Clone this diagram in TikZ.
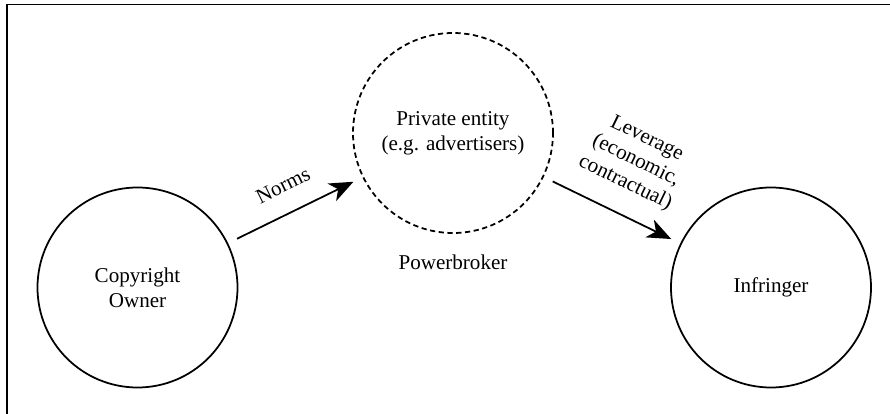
\documentclass[tikz,border=0pt]{standalone}
\usepackage{fontspec}
\setmainfont{Liberation Serif}
\usetikzlibrary{arrows.meta,positioning}
\tikzset{
	party/.style={
			draw, circle, line width=1pt, minimum size=4cm, align=center,
			font=\fontsize{12}{14}\selectfont
		},
	hidden party/.style={party, dash pattern=on 3pt off 2pt},
	flow/.style={line width=1pt, -{Stealth[length=4.8mm,width=3.9mm,inset=1.4mm]}, shorten <=2mm, shorten >=2mm},
	flow label/.style={midway, sloped, above=2.8mm, align=center, font=\fontsize{12}{14}\selectfont}
}

\begin{document}
\begin{tikzpicture}
        \useasboundingbox (0,0) rectangle (17.8,8.28);
        \draw [line width=0.8pt] (17.8,8.19) -- (0.14,8.19) -- (0.14,0);
        \node [party] (owner) at (2.75,2.53) {Copyright\\Owner};
        \node [hidden party] (entity) at (9.06,5.62) {Private entity\\(e.g. advertisers)};
        \node [party] (infringer) at (15.42,2.53) {Infringer};
        \node [below=3mm of entity, font=\fontsize{12}{14}\selectfont] (powerbroker) {Powerbroker};
        \draw [flow] (owner) -- (entity) node[flow label]{Norms};
        \draw [flow] (entity) -- (infringer) node[flow label]{Leverage\\(economic,\\contractual)};
    \end{tikzpicture}
\end{document}
